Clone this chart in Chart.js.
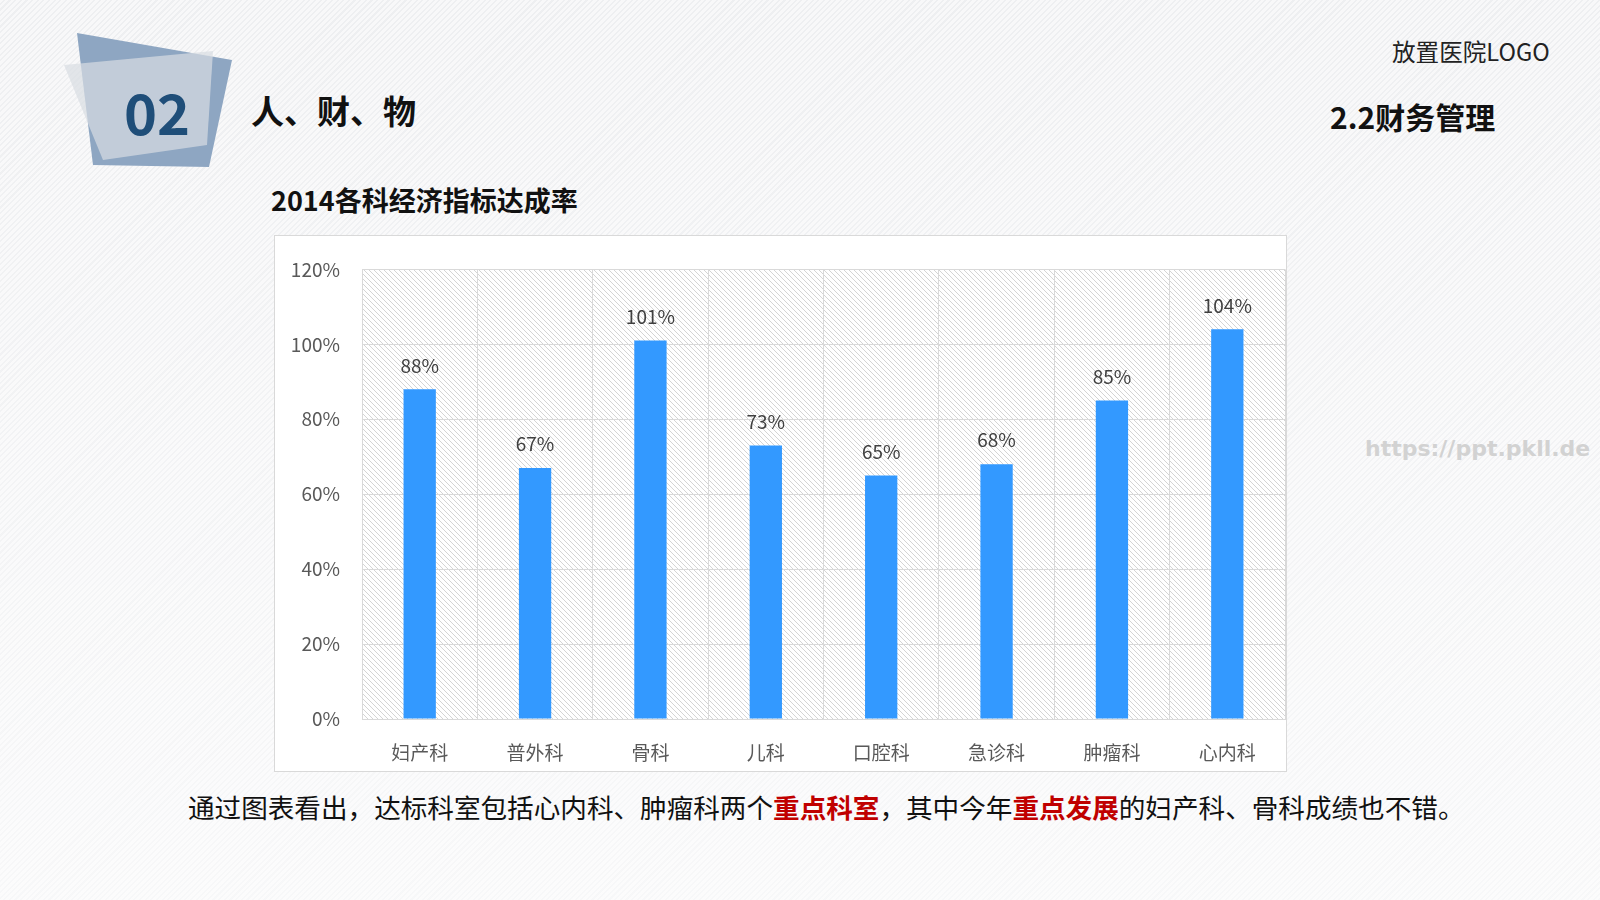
<!DOCTYPE html>
<html>
<head>
<meta charset="utf-8">
<script src="https://cdn.jsdelivr.net/npm/chart.js@4.4.0/dist/chart.umd.min.js"></script>
<style>
    html, body {
        margin: 0;
        padding: 0;
    }
    body {
        width: 1600px;
        height: 900px;
        position: relative;
        overflow: hidden;
        font-family: "Noto Sans CJK SC", "Noto Sans", sans-serif;
        background:
            linear-gradient(to bottom, rgba(255,255,255,0) 0%, rgba(255,255,255,0.55) 100%),
            repeating-linear-gradient(-45deg, #eeeff1 0px, #eeeff1 1.5px, #f8f8f9 1.5px, #f8f8f9 4px);
    }
    .abs { position: absolute; white-space: nowrap; }
    #badge { position: absolute; left: 0; top: 0; }
    #num {
        left: 157px; top: 110px; transform: translate(-50%, -50%);
        font-size: 56px; font-weight: bold; color: #1f4e79;
    }
    #sec {
        left: 251px; top: 110px; transform: translateY(-50%);
        font-size: 33px; font-weight: bold; color: #111;
    }
    #logo {
        left: 1392px; top: 51px; transform: translateY(-50%);
        font-size: 23.6px; color: #222;
    }
    #sub {
        left: 1330px; top: 116px; transform: translateY(-50%);
        font-size: 30px; font-weight: bold; color: #111;
    }
    #title {
        left: 271px; top: 199px; transform: translateY(-50%);
        font-size: 27px; font-weight: bold; color: #111;
    }
    #box {
        position: absolute; left: 274px; top: 235px;
        width: 1013px; height: 537px;
        background: #fff; border: 1px solid #d9d9d9; box-sizing: border-box;
    }
    #note {
        left: 188px; top: 806px; transform: translateY(-50%);
        font-size: 26.6px; color: #111;
    }
    #note b { color: #c00000; }
    #wm {
        left: 1365px; top: 448px; transform: translateY(-50%);
        font-family: "DejaVu Sans", sans-serif;
        font-size: 22px; font-weight: bold; color: #d2d2d2;
    }
</style>
</head>
<body>
<svg id="badge" width="260" height="190">
    <polygon points="77,33 232,60 209,167 93,165" fill="#8ea6c2"/>
    <polygon points="64,65 213,51 207,145 103,160" fill="#d8dde3" fill-opacity="0.7"/>
</svg>
<div class="abs" id="num">02</div>
<div class="abs" id="sec">人、财、物</div>
<div class="abs" id="logo">放置医院LOGO</div>
<div class="abs" id="sub">2.2财务管理</div>
<div class="abs" id="title">2014各科经济指标达成率</div>
<div id="box"><canvas id="bar_Chart" width="1011" height="535"></canvas></div>
<div class="abs" id="note">通过图表看出，达标科室包括心内科、肿瘤科两个<b>重点科室</b>，其中今年<b>重点发展</b>的妇产科、骨科成绩也不错。</div>
<div class="abs" id="wm">https://ppt.pkll.de</div>

<script>
var departments = ["妇产科", "普外科", "骨科", "儿科", "口腔科", "急诊科", "肿瘤科", "心内科"];
var rates = [88, 67, 101, 73, 65, 68, 85, 104];
var yTicks = [0, 20, 40, 60, 80, 100, 120];

// rayado del área de trazado
function makeHatch() {
    var c = document.createElement("canvas");
    c.width = 5;
    c.height = 5;
    var g = c.getContext("2d");
    g.fillStyle = "#ffffff";
    g.fillRect(0, 0, 5, 5);
    g.strokeStyle = "#d4d4d4";
    g.lineWidth = 1;
    g.beginPath();
    g.moveTo(-1, -1); g.lineTo(6, 6);
    g.moveTo(-6, -1); g.lineTo(1, 6);
    g.moveTo(4, -1); g.lineTo(11, 6);
    g.stroke();
    return c;
}

var hatchBg = {
    id: "hatchBg",
    beforeDraw: function (chart) {
        var a = chart.chartArea;
        var ctx = chart.ctx;
        ctx.save();
        ctx.fillStyle = ctx.createPattern(makeHatch(), "repeat");
        ctx.fillRect(a.left, a.top, a.right - a.left, a.bottom - a.top);
        ctx.restore();
    },
};

var valueLabels = {
    id: "valueLabels",
    afterDatasetsDraw: function (chart) {
        var ctx = chart.ctx;
        var meta = chart.getDatasetMeta(0);
        ctx.save();
        ctx.font = "19px 'Noto Sans CJK SC', 'Noto Sans', sans-serif";
        ctx.fillStyle = "#404040";
        ctx.textAlign = "center";
        ctx.textBaseline = "middle";
        meta.data.forEach(function (bar, i) {
            ctx.fillText(rates[i] + "%", bar.x, bar.y - 24);
        });
        ctx.restore();
    },
};

var ctx = document.getElementById("bar_Chart").getContext("2d");
var barChart = new Chart(ctx, {
    type: "bar",
    data: {
        labels: departments,
        datasets: [{
            data: rates,
            backgroundColor: "#3399ff",
            borderWidth: 0,
            barPercentage: 0.28,
            categoryPercentage: 1,
        }],
    },
    options: {
        responsive: false,
        animation: false,
        layout: { autoPadding: false, padding: { top: 32, right: 1, left: 0, bottom: 0 } },
        plugins: {
            legend: { display: false },
            tooltip: { enabled: false },
        },
        scales: {
            x: {
                grid: { color: "#d9d9d9", drawTicks: false, offset: true },
                border: { color: "#d9d9d9" },
                ticks: {
                    color: "#595959",
                    padding: 22,
                    font: { size: 19, family: "'Noto Sans CJK SC', 'Noto Sans', sans-serif" },
                },
                afterFit: function (scale) { scale.height = 52; },
            },
            y: {
                min: 0,
                max: 120,
                afterBuildTicks: function (scale) {
                    scale.ticks = yTicks.map(function (v) { return { value: v }; });
                },
                grid: { color: "#d9d9d9", drawTicks: false },
                border: { color: "#d9d9d9" },
                ticks: {
                    color: "#595959",
                    padding: 22,
                    font: { size: 19, family: "'Noto Sans CJK SC', 'Noto Sans', sans-serif" },
                    callback: function (v) { return v + "%"; },
                },
                afterFit: function (scale) { scale.width = 87; },
            },
        },
    },
    plugins: [hatchBg, valueLabels],
});
barChart.update();
</script>
</body>
</html>
